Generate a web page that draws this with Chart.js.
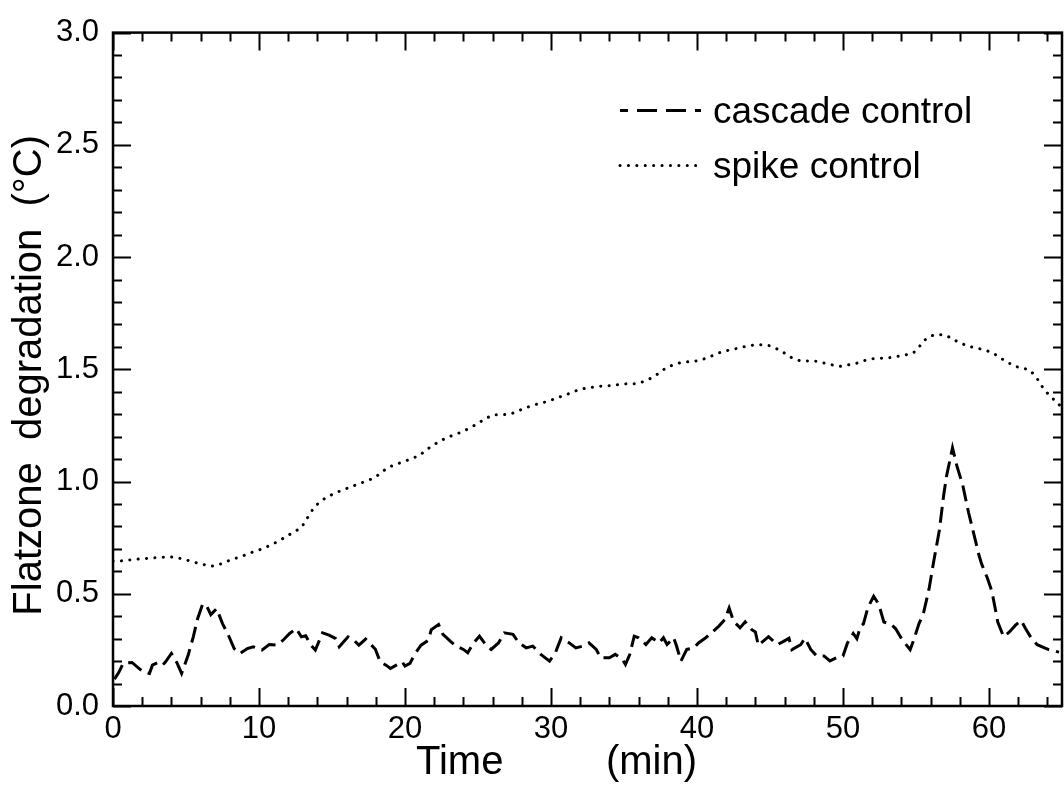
<!DOCTYPE html>
<html>
<head>
<meta charset="utf-8">
<script src="https://cdn.jsdelivr.net/npm/chart.js@4/dist/chart.umd.min.js"></script>
<style>
  html, body { margin: 0; padding: 0; background: #fff; }
  canvas { display: block; }
</style>
</head>
<body>
<canvas id="chart" width="1064" height="786"></canvas>
<script>
// Data
const cascadeTime = [0.1, 0.4, 0.7, 1.3, 2.05, 2.5, 2.7, 3.07, 3.4, 3.6, 4.0, 4.4, 4.7, 5.15, 5.5, 5.8, 6.15, 6.45, 6.7, 7.1,
    7.5, 7.9, 8.3, 8.7, 9.2, 9.6, 10.2, 10.7, 11.2, 11.65, 12.1, 12.55, 12.9, 13.2, 13.55, 13.86, 14.35, 14.8, 15.26, 15.5,
    15.8, 16.1, 16.5, 16.84, 17.3, 17.7, 17.97, 18.3, 18.7, 19.0, 19.4, 19.8, 20.0, 20.34, 20.7, 21.1, 21.6, 21.8, 22.3, 22.6,
    23.1, 23.5, 24.0, 24.3, 24.7, 25.1, 25.6, 25.9, 26.4, 26.8, 27.4, 27.8, 28.3, 28.75, 29.3, 29.9, 30.3, 30.7, 31.25, 31.7,
    32.2, 32.6, 33.1, 33.4, 34.0, 34.4, 34.9, 35.1, 35.4, 35.7, 36.0, 36.5, 36.9, 37.4, 37.7, 37.95, 38.4, 38.6, 38.9, 39.3,
    39.8, 40.1, 40.6, 41.0, 41.5, 41.9, 42.2, 42.5, 42.95, 43.3, 43.75, 44.0, 44.2, 44.9, 45.5, 45.9, 46.3, 46.5, 47.1, 47.4,
    47.8, 48.2, 48.7, 49.1, 49.6, 50.0, 50.3, 50.7, 50.95, 51.2, 51.4, 51.7, 52.1, 52.45, 52.8, 53.25, 53.6, 54.05, 54.6, 54.85,
    55.2, 55.5, 55.9, 56.2, 56.6, 56.9, 57.1, 57.5, 57.8, 58.2, 58.6, 58.95, 59.3, 59.5, 59.9, 60.2, 60.5, 60.6, 61.0, 61.4,
    61.8, 62.2, 62.5, 62.9, 63.3, 63.8, 64.1, 64.8];
const cascadeValues = [0.12, 0.15, 0.19, 0.194, 0.153, 0.145, 0.182, 0.194, 0.182, 0.197, 0.234, 0.19, 0.145, 0.227, 0.308, 0.39, 0.456, 0.441, 0.407, 0.434,
    0.367, 0.316, 0.256, 0.234, 0.256, 0.264, 0.249, 0.274, 0.271, 0.293, 0.323, 0.345, 0.308, 0.313, 0.271, 0.249, 0.326, 0.316, 0.3, 0.264,
    0.286, 0.308, 0.293, 0.271, 0.298, 0.271, 0.253, 0.197, 0.182, 0.167, 0.182, 0.197, 0.178, 0.19, 0.234, 0.271, 0.293, 0.34, 0.363, 0.319,
    0.289, 0.267, 0.252, 0.237, 0.281, 0.311, 0.267, 0.252, 0.281, 0.326, 0.319, 0.281, 0.259, 0.267, 0.23, 0.2, 0.237, 0.304, 0.281, 0.259,
    0.267, 0.281, 0.252, 0.215, 0.215, 0.23, 0.207, 0.185, 0.23, 0.311, 0.304, 0.274, 0.304, 0.281, 0.304, 0.274, 0.304, 0.267, 0.2, 0.252,
    0.259, 0.281, 0.304, 0.326, 0.356, 0.385, 0.437, 0.378, 0.348, 0.375, 0.34, 0.33, 0.27, 0.309, 0.273, 0.287, 0.302, 0.251, 0.273, 0.302,
    0.251, 0.223, 0.223, 0.201, 0.216, 0.223, 0.28, 0.323, 0.3, 0.355, 0.366, 0.438, 0.489, 0.453, 0.374, 0.366, 0.345, 0.295, 0.251, 0.295,
    0.366, 0.41, 0.524, 0.639, 0.783, 0.941, 1.027, 1.15, 1.07, 0.984, 0.862, 0.769, 0.675, 0.632, 0.568, 0.51, 0.409, 0.374, 0.309, 0.33,
    0.359, 0.381, 0.345, 0.302, 0.273, 0.259, 0.251, 0.24];

const spikeTime = [0.0, 0.5, 1.6, 2.8, 3.9, 4.45, 5.0, 5.6, 6.1, 6.7, 7.2, 7.7, 8.3, 8.8, 9.3, 9.85, 10.4, 10.9, 11.4, 11.9,
    12.4, 12.9, 13.2, 13.5, 13.8, 14.2, 14.7, 15.2, 15.75, 16.3, 16.8, 17.35, 17.9, 18.4, 18.8, 19.3, 19.9, 20.4, 21.0, 21.4,
    21.9, 22.4, 22.9, 23.5, 24.0, 24.6, 25.0, 25.5, 26.0, 26.6, 27.2, 27.7, 28.2, 28.8, 29.3, 29.8, 30.4, 30.9, 31.4, 31.9,
    32.5, 33.1, 33.65, 34.2, 34.8, 35.4, 35.9, 36.5, 36.95, 37.5, 37.9, 38.5, 39.0, 39.6, 40.15, 40.65, 41.2, 41.7, 42.3, 42.8,
    43.4, 43.95, 44.5, 45.0, 45.55, 46.05, 46.5, 47.05, 47.6, 48.2, 48.75, 49.3, 49.8, 50.3, 50.9, 51.4, 52.0, 52.5, 53.1, 53.7,
    54.2, 54.8, 55.2, 55.5, 56.05, 56.5, 57.1, 57.6, 58.1, 58.6, 59.2, 59.7, 60.3, 60.7, 61.2, 61.7, 62.3, 62.8, 63.2, 63.5,
    63.8, 64.2, 64.6, 65.0];
const spikeValues = [0.645, 0.646, 0.654, 0.66, 0.665, 0.66, 0.651, 0.64, 0.632, 0.622, 0.628, 0.642, 0.656, 0.666, 0.68, 0.691, 0.705, 0.72, 0.737, 0.757,
    0.775, 0.795, 0.825, 0.858, 0.887, 0.911, 0.933, 0.948, 0.963, 0.976, 0.99, 1.001, 1.017, 1.04, 1.062, 1.075, 1.088, 1.101, 1.116, 1.138,
    1.161, 1.18, 1.197, 1.211, 1.224, 1.244, 1.26, 1.279, 1.297, 1.297, 1.3, 1.313, 1.327, 1.34, 1.35, 1.357, 1.372, 1.384, 1.395, 1.41,
    1.417, 1.423, 1.426, 1.428, 1.434, 1.436, 1.436, 1.449, 1.464, 1.487, 1.508, 1.522, 1.532, 1.534, 1.539, 1.55, 1.565, 1.578, 1.587, 1.594,
    1.603, 1.609, 1.609, 1.605, 1.589, 1.57, 1.551, 1.538, 1.537, 1.536, 1.527, 1.519, 1.513, 1.519, 1.526, 1.538, 1.547, 1.549, 1.551, 1.557,
    1.563, 1.572, 1.598, 1.626, 1.649, 1.656, 1.65, 1.631, 1.616, 1.602, 1.594, 1.586, 1.572, 1.553, 1.535, 1.514, 1.506, 1.496, 1.468, 1.438,
    1.407, 1.381, 1.355, 1.33];

const xMajorTicks = [0, 10, 20, 30, 40, 50, 60];
const yMajorTicks = [0.0, 0.5, 1.0, 1.5, 2.0, 2.5, 3.0];
const seriesLabels = ['cascade control', 'spike control'];

const xTitle = ['Time', '(min)'];
const yTitle = 'Flatzone  degradation  (°C)';

const FONT = "'Liberation Sans', Arial, sans-serif";

function toPoints(xs, ys) {
    return xs.map((t, i) => ({ x: t, y: ys[i] }));
}

// Axes frame with inward ticks on all four sides, plus titles and legend
const framePlugin = {
    id: 'frame',
    afterDraw(chart) {
        const { ctx, chartArea: a, scales: { x, y } } = chart;
        ctx.save();
        ctx.strokeStyle = '#000';
        ctx.fillStyle = '#000';

        ctx.lineWidth = 2;
        ctx.beginPath();
        for (let i = 0; i <= 32; i++) {
            const v = i * 2;
            const px = Math.round(x.getPixelForValue(v)) + 0.5;
            const len = xMajorTicks.includes(v) ? 18 : 9;
            ctx.moveTo(px, a.bottom); ctx.lineTo(px, a.bottom - len);
            ctx.moveTo(px, a.top); ctx.lineTo(px, a.top + len);
        }
        for (let i = 0; i <= 30; i++) {
            const py = Math.round(y.getPixelForValue(i / 10)) + 0.5;
            const len = yMajorTicks.includes(i / 10) ? 18 : 9;
            ctx.moveTo(a.left, py); ctx.lineTo(a.left + len, py);
            ctx.moveTo(a.right, py); ctx.lineTo(a.right - len, py);
        }
        ctx.stroke();

        ctx.lineWidth = 2.5;
        ctx.strokeRect(a.left, a.top, a.right - a.left, a.bottom - a.top);

        // axis titles
        ctx.font = '40px ' + FONT;
        ctx.textBaseline = 'alphabetic';
        ctx.textAlign = 'left';
        ctx.fillText(xTitle[0], 416, 774);
        ctx.textAlign = 'right';
        ctx.fillText(xTitle[1], 697, 774);

        ctx.save();
        ctx.translate(30, (a.top + a.bottom) / 2 + 6);
        ctx.rotate(-Math.PI / 2);
        ctx.textAlign = 'center';
        ctx.textBaseline = 'middle';
        ctx.font = '40px ' + FONT;
        ctx.fillText(yTitle, 0, 0);
        ctx.restore();

        // legend
        ctx.font = '37px ' + FONT;
        ctx.textAlign = 'left';
        ctx.textBaseline = 'middle';
        chart.data.datasets.forEach((ds, i) => {
            const ly = a.top + 78 + i * 55;
            ctx.save();
            ctx.lineWidth = ds.borderWidth;
            ctx.lineCap = ds.borderCapStyle || 'butt';
            ctx.setLineDash(i === 0 ? [20, 9] : ds.borderDash);
            ctx.lineDashOffset = i === 0 ? 12 : 0;
            ctx.beginPath();
            ctx.moveTo(620, ly);
            ctx.lineTo(701, ly);
            ctx.stroke();
            ctx.restore();
            ctx.fillText(ds.label, 713, ly + 2);
        });
        ctx.restore();
    }
};

const tickFont = { family: FONT, size: 31 };

new Chart(document.getElementById('chart'), {
    type: 'line',
    data: {
        datasets: [{
            label: seriesLabels[0],
            data: toPoints(cascadeTime, cascadeValues),
            borderColor: '#000',
            borderWidth: 3,
            borderDash: [16, 7],
            tension: 0,
            pointRadius: 0,
            fill: false
        }, {
            label: seriesLabels[1],
            data: toPoints(spikeTime, spikeValues),
            borderColor: '#000',
            borderWidth: 3,
            borderDash: [0.1, 8.3],
            borderCapStyle: 'round',
            tension: 0,
            pointRadius: 0,
            fill: false
        }]
    },
    options: {
        responsive: false,
        animation: false,
        devicePixelRatio: 1,
        layout: { padding: { top: 19, right: 2, left: 0, bottom: 0 } },
        plugins: {
            legend: { display: false },
            tooltip: { enabled: false }
        },
        scales: {
            x: {
                type: 'linear',
                min: 0,
                max: 65,
                border: { display: false },
                grid: { display: false, drawTicks: false },
                ticks: {
                    stepSize: 10,
                    includeBounds: false,
                    padding: 5,
                    color: '#000',
                    font: tickFont,
                    maxRotation: 0
                },
                afterFit: s => { s.height = 80; }
            },
            y: {
                type: 'linear',
                min: 0,
                max: 3,
                border: { display: false },
                grid: { display: false, drawTicks: false },
                ticks: {
                    stepSize: 0.5,
                    padding: 14,
                    color: '#000',
                    font: tickFont,
                    callback: v => v.toFixed(1)
                },
                afterFit: s => { s.width = 113; }
            }
        }
    },
    plugins: [framePlugin]
});
</script>
</body>
</html>
